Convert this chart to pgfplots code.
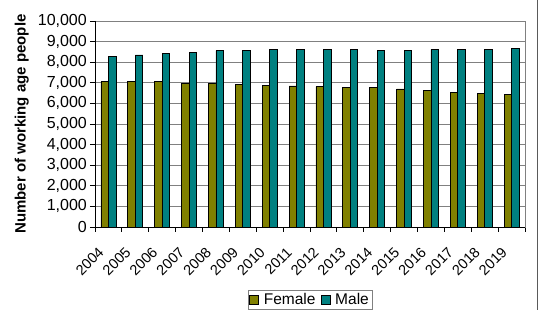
\documentclass[border=0pt]{standalone}
\usepackage{fontspec}
\setmainfont{Liberation Sans}
\usepackage{pgfplots}
\pgfplotsset{compat=1.18}

\definecolor{femalecol}{HTML}{808000}
\definecolor{malecol}{HTML}{008080}
\definecolor{gridgray}{HTML}{808080}

\begin{document}
\begin{tikzpicture}
\begin{axis}[
  at={(95pt,83pt)}, anchor=south west,
  scale only axis, width=430pt, height=206pt,
  ybar=0pt, bar width=7.5pt,
  xmin=-0.5, xmax=15.5,
  ymin=0, ymax=10000,
  ytick={0,1000,...,10000},
  scaled y ticks=false,
  /pgf/number format/.cd, 1000 sep={,}, assume math mode=true,
  /pgfplots/.cd,
  xtick={0,...,15},
  xticklabels={2004,2005,2006,2007,2008,2009,2010,2011,2012,2013,2014,2015,2016,2017,2018,2019},
  major x tick style={draw=none},
  minor xtick={-0.5,0.5,...,15.5},
  minor tick length=5pt,
  major tick length=5pt,
  tick align=outside,
  xtick pos=bottom, ytick pos=left,
  tick style={black, line width=0.8pt},
  axis line style={gridgray, line width=0.8pt},
  ymajorgrids, grid style={gridgray, line width=0.8pt},
  yticklabel style={font=\fontsize{16}{18}\selectfont, inner sep=0pt, xshift=-3pt},
  xticklabel style={font=\fontsize{14.5}{16}\selectfont, inner sep=0pt,
    xshift=-11pt, yshift=-14pt, rotate=45, anchor=north east},
  ylabel={\bfseries Number of working age people},
  ylabel style={font=\fontsize{15}{17}\selectfont, at={(axis description cs:-0.170,0.5)}, anchor=center},
  legend columns=2,
  legend style={at={(axis description cs:0.5,-0.354)}, anchor=center,
    draw=gridgray, line width=0.6pt, font=\fontsize{15.5}{17}\selectfont,
    inner sep=1pt, column sep=3pt},
  legend image code/.code={\draw[#1, line width=0.7pt] (0pt,-4.5pt) rectangle (9pt,4.5pt);},
  every axis plot/.append style={draw=black, line width=0.7pt},
  clip=false,
]
\addplot[fill=femalecol] coordinates {
  (0,7050) (1,7050) (2,7050) (3,6990) (4,6970) (5,6930) (6,6880) (7,6845)
  (8,6810) (9,6780) (10,6760) (11,6700) (12,6620) (13,6550) (14,6490) (15,6420)};
\addplot[fill=malecol] coordinates {
  (0,8270) (1,8350) (2,8430) (3,8480) (4,8560) (5,8590) (6,8620) (7,8610)
  (8,8610) (9,8610) (10,8590) (11,8580) (12,8620) (13,8620) (14,8620) (15,8660)};
\legend{Female,Male}
% solid black frame on the value and category axes
\draw[black, line width=0.8pt] (rel axis cs:0,1) -- (rel axis cs:0,0) -- (rel axis cs:1,0);
\end{axis}
% right-hand frame line of the chart area
\draw[gridgray!70!black, line width=0.8pt] (537pt,0pt) -- (537pt,310pt);
\pgfresetboundingbox
\path[use as bounding box] (0pt,0pt) rectangle (541pt,310pt);
\end{tikzpicture}
\end{document}
